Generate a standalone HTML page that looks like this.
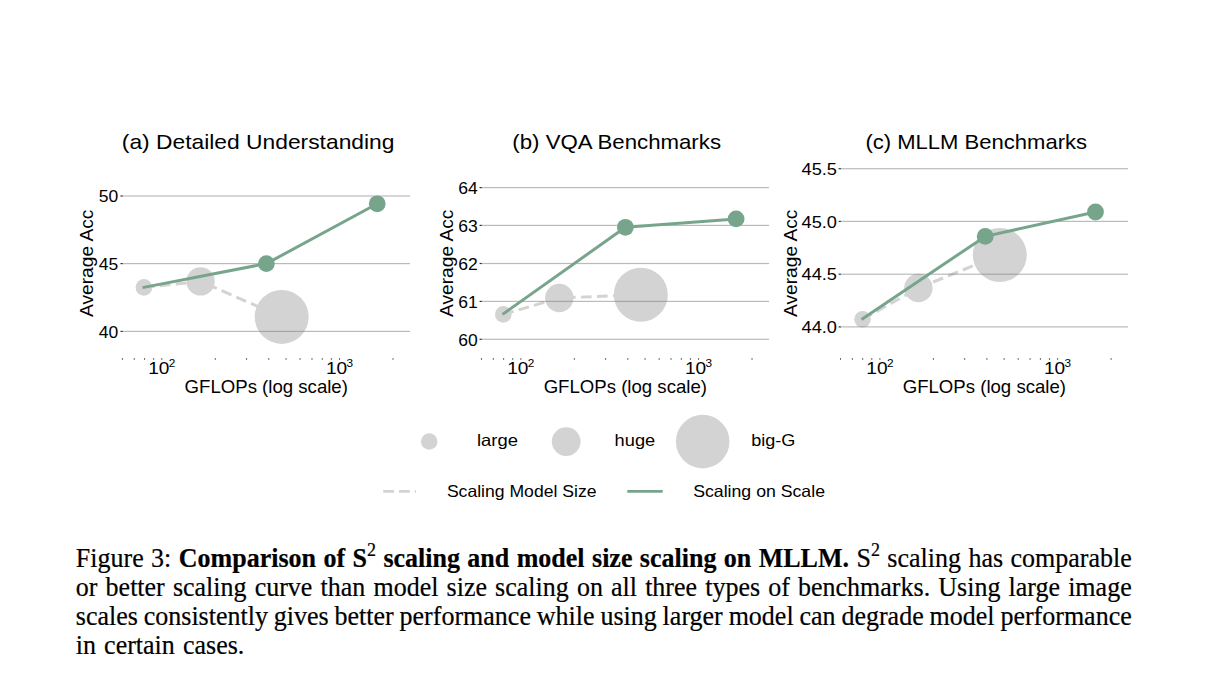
<!DOCTYPE html>
<html><head><meta charset="utf-8"><style>
html,body{margin:0;padding:0;background:#fff;}
body{width:1210px;height:686px;position:relative;overflow:hidden;}
svg{position:absolute;left:0;top:0;}
svg text{font-family:"Liberation Sans",sans-serif;fill:#000;}
.cap{position:absolute;left:75.8px;font-family:"Liberation Serif",serif;font-size:26px;line-height:29px;color:#000;white-space:nowrap;transform:scaleY(1.05);transform-origin:0 23px;-webkit-text-stroke:0.2px #000;}
.cap b{font-weight:bold;}
.cap sup{font-size:18px;font-weight:normal;vertical-align:0;position:relative;top:-10px;line-height:0;}
</style></head><body>
<svg width="1210" height="686" viewBox="0 0 1210 686">
<text x="121.8" y="149" font-size="20.8" textLength="272.7" lengthAdjust="spacingAndGlyphs">(a) Detailed Understanding</text>
<text transform="translate(92.9,263.3) rotate(-90)" text-anchor="middle" font-size="17.8" textLength="107.5" lengthAdjust="spacingAndGlyphs">Average Acc</text>
<text x="118.3" y="202.2" text-anchor="end" font-size="16.8" textLength="19.5" lengthAdjust="spacingAndGlyphs">50</text>
<rect x="120.5" y="195.4" width="2.3" height="1.2" fill="#333"/>
<text x="118.3" y="269.8" text-anchor="end" font-size="16.8" textLength="19.5" lengthAdjust="spacingAndGlyphs">45</text>
<rect x="120.5" y="263" width="2.3" height="1.2" fill="#333"/>
<text x="118.3" y="337.6" text-anchor="end" font-size="16.8" textLength="19.5" lengthAdjust="spacingAndGlyphs">40</text>
<rect x="120.5" y="330.8" width="2.3" height="1.2" fill="#333"/>
<rect x="121.88" y="358" width="1" height="1.9" fill="#666"/>
<rect x="133.77" y="358" width="1" height="1.9" fill="#666"/>
<rect x="144.08" y="358" width="1" height="1.9" fill="#666"/>
<rect x="153.17" y="358" width="1" height="1.9" fill="#666"/>
<rect x="161.3" y="358" width="1" height="1.9" fill="#666"/>
<rect x="214.79" y="358" width="1" height="1.9" fill="#666"/>
<rect x="246.08" y="358" width="1" height="1.9" fill="#666"/>
<rect x="268.29" y="358" width="1" height="1.9" fill="#666"/>
<rect x="285.51" y="358" width="1" height="1.9" fill="#666"/>
<rect x="299.58" y="358" width="1" height="1.9" fill="#666"/>
<rect x="311.47" y="358" width="1" height="1.9" fill="#666"/>
<rect x="321.78" y="358" width="1" height="1.9" fill="#666"/>
<rect x="330.87" y="358" width="1" height="1.9" fill="#666"/>
<rect x="339" y="358" width="1" height="1.9" fill="#666"/>
<rect x="392.49" y="358" width="1" height="1.9" fill="#666"/>
<text x="148.2" y="374.3" font-size="16.5" textLength="21.2" lengthAdjust="spacingAndGlyphs">10</text>
<text x="168.8" y="367.2" font-size="11.8">2</text>
<text x="325.9" y="374.3" font-size="16.5" textLength="21.2" lengthAdjust="spacingAndGlyphs">10</text>
<text x="346.5" y="367.2" font-size="11.8">3</text>
<text x="184.6" y="393" font-size="17.8" textLength="163.3" lengthAdjust="spacingAndGlyphs">GFLOPs (log scale)</text>
<polyline points="143.9,287.4 200.6,281.4 281.7,316.9" fill="none" stroke="#d3d3d3" stroke-width="3" stroke-dasharray="10.7 5.3"/>
<circle cx="143.9" cy="287.4" r="8.3" fill="#d3d3d3"/>
<circle cx="200.6" cy="281.4" r="14.2" fill="#d3d3d3"/>
<circle cx="281.7" cy="316.9" r="27" fill="#d3d3d3"/>
<rect x="122.8" y="195.4" width="287.2" height="1.2" fill="rgba(120,120,120,0.5)"/>
<rect x="122.8" y="263" width="287.2" height="1.2" fill="rgba(120,120,120,0.5)"/>
<rect x="122.8" y="330.8" width="287.2" height="1.2" fill="rgba(120,120,120,0.5)"/>
<polyline points="142.5,287.6 266.4,263.6 377.2,203.8" fill="none" stroke="#77a58c" stroke-width="3" stroke-linejoin="round"/>
<circle cx="266.4" cy="263.6" r="8.4" fill="#77a58c"/>
<circle cx="377.2" cy="203.8" r="8.4" fill="#77a58c"/>
<text x="512.3" y="149" font-size="20.8" textLength="208.7" lengthAdjust="spacingAndGlyphs">(b) VQA Benchmarks</text>
<text transform="translate(452.6,263.3) rotate(-90)" text-anchor="middle" font-size="17.8" textLength="107.5" lengthAdjust="spacingAndGlyphs">Average Acc</text>
<text x="477.7" y="193.8" text-anchor="end" font-size="16.8" textLength="19.5" lengthAdjust="spacingAndGlyphs">64</text>
<rect x="479.55" y="187" width="2.3" height="1.2" fill="#333"/>
<text x="477.7" y="231.6" text-anchor="end" font-size="16.8" textLength="19.5" lengthAdjust="spacingAndGlyphs">63</text>
<rect x="479.55" y="224.8" width="2.3" height="1.2" fill="#333"/>
<text x="477.7" y="269.7" text-anchor="end" font-size="16.8" textLength="19.5" lengthAdjust="spacingAndGlyphs">62</text>
<rect x="479.55" y="262.9" width="2.3" height="1.2" fill="#333"/>
<text x="477.7" y="307.6" text-anchor="end" font-size="16.8" textLength="19.5" lengthAdjust="spacingAndGlyphs">61</text>
<rect x="479.55" y="300.8" width="2.3" height="1.2" fill="#333"/>
<text x="477.7" y="345.5" text-anchor="end" font-size="16.8" textLength="19.5" lengthAdjust="spacingAndGlyphs">60</text>
<rect x="479.55" y="338.7" width="2.3" height="1.2" fill="#333"/>
<rect x="480.93" y="358" width="1" height="1.9" fill="#666"/>
<rect x="492.82" y="358" width="1" height="1.9" fill="#666"/>
<rect x="503.13" y="358" width="1" height="1.9" fill="#666"/>
<rect x="512.22" y="358" width="1" height="1.9" fill="#666"/>
<rect x="520.35" y="358" width="1" height="1.9" fill="#666"/>
<rect x="573.84" y="358" width="1" height="1.9" fill="#666"/>
<rect x="605.13" y="358" width="1" height="1.9" fill="#666"/>
<rect x="627.34" y="358" width="1" height="1.9" fill="#666"/>
<rect x="644.56" y="358" width="1" height="1.9" fill="#666"/>
<rect x="658.63" y="358" width="1" height="1.9" fill="#666"/>
<rect x="670.52" y="358" width="1" height="1.9" fill="#666"/>
<rect x="680.83" y="358" width="1" height="1.9" fill="#666"/>
<rect x="689.92" y="358" width="1" height="1.9" fill="#666"/>
<rect x="698.05" y="358" width="1" height="1.9" fill="#666"/>
<rect x="751.54" y="358" width="1" height="1.9" fill="#666"/>
<text x="507.25" y="374.3" font-size="16.5" textLength="21.2" lengthAdjust="spacingAndGlyphs">10</text>
<text x="527.85" y="367.2" font-size="11.8">2</text>
<text x="684.95" y="374.3" font-size="16.5" textLength="21.2" lengthAdjust="spacingAndGlyphs">10</text>
<text x="705.55" y="367.2" font-size="11.8">3</text>
<text x="543.65" y="393" font-size="17.8" textLength="163.3" lengthAdjust="spacingAndGlyphs">GFLOPs (log scale)</text>
<polyline points="503.3,314.4 559.3,298 640.8,294.7" fill="none" stroke="#d3d3d3" stroke-width="3" stroke-dasharray="10.7 5.3"/>
<circle cx="503.3" cy="314.4" r="8.3" fill="#d3d3d3"/>
<circle cx="559.3" cy="298" r="14.2" fill="#d3d3d3"/>
<circle cx="640.8" cy="294.7" r="27" fill="#d3d3d3"/>
<rect x="481.85" y="187" width="287.2" height="1.2" fill="rgba(120,120,120,0.5)"/>
<rect x="481.85" y="224.8" width="287.2" height="1.2" fill="rgba(120,120,120,0.5)"/>
<rect x="481.85" y="262.9" width="287.2" height="1.2" fill="rgba(120,120,120,0.5)"/>
<rect x="481.85" y="300.8" width="287.2" height="1.2" fill="rgba(120,120,120,0.5)"/>
<rect x="481.85" y="338.7" width="287.2" height="1.2" fill="rgba(120,120,120,0.5)"/>
<polyline points="502.5,314.4 625.4,227.3 736.1,218.9" fill="none" stroke="#77a58c" stroke-width="3" stroke-linejoin="round"/>
<circle cx="625.4" cy="227.3" r="8.4" fill="#77a58c"/>
<circle cx="736.1" cy="218.9" r="8.4" fill="#77a58c"/>
<text x="865.4" y="149" font-size="20.8" textLength="221.7" lengthAdjust="spacingAndGlyphs">(c) MLLM Benchmarks</text>
<text transform="translate(796.6,263.3) rotate(-90)" text-anchor="middle" font-size="17.8" textLength="107.5" lengthAdjust="spacingAndGlyphs">Average Acc</text>
<text x="837" y="174.9" text-anchor="end" font-size="16.8" textLength="35.5" lengthAdjust="spacingAndGlyphs">45.5</text>
<rect x="838.6" y="168.1" width="2.3" height="1.2" fill="#333"/>
<text x="837" y="227.6" text-anchor="end" font-size="16.8" textLength="35.5" lengthAdjust="spacingAndGlyphs">45.0</text>
<rect x="838.6" y="220.8" width="2.3" height="1.2" fill="#333"/>
<text x="837" y="280.4" text-anchor="end" font-size="16.8" textLength="35.5" lengthAdjust="spacingAndGlyphs">44.5</text>
<rect x="838.6" y="273.6" width="2.3" height="1.2" fill="#333"/>
<text x="837" y="333.1" text-anchor="end" font-size="16.8" textLength="35.5" lengthAdjust="spacingAndGlyphs">44.0</text>
<rect x="838.6" y="326.3" width="2.3" height="1.2" fill="#333"/>
<rect x="839.98" y="358" width="1" height="1.9" fill="#666"/>
<rect x="851.87" y="358" width="1" height="1.9" fill="#666"/>
<rect x="862.18" y="358" width="1" height="1.9" fill="#666"/>
<rect x="871.27" y="358" width="1" height="1.9" fill="#666"/>
<rect x="879.4" y="358" width="1" height="1.9" fill="#666"/>
<rect x="932.89" y="358" width="1" height="1.9" fill="#666"/>
<rect x="964.18" y="358" width="1" height="1.9" fill="#666"/>
<rect x="986.39" y="358" width="1" height="1.9" fill="#666"/>
<rect x="1003.61" y="358" width="1" height="1.9" fill="#666"/>
<rect x="1017.68" y="358" width="1" height="1.9" fill="#666"/>
<rect x="1029.57" y="358" width="1" height="1.9" fill="#666"/>
<rect x="1039.88" y="358" width="1" height="1.9" fill="#666"/>
<rect x="1048.97" y="358" width="1" height="1.9" fill="#666"/>
<rect x="1057.1" y="358" width="1" height="1.9" fill="#666"/>
<rect x="1110.59" y="358" width="1" height="1.9" fill="#666"/>
<text x="866.3" y="374.3" font-size="16.5" textLength="21.2" lengthAdjust="spacingAndGlyphs">10</text>
<text x="886.9" y="367.2" font-size="11.8">2</text>
<text x="1044" y="374.3" font-size="16.5" textLength="21.2" lengthAdjust="spacingAndGlyphs">10</text>
<text x="1064.6" y="367.2" font-size="11.8">3</text>
<text x="902.7" y="393" font-size="17.8" textLength="163.3" lengthAdjust="spacingAndGlyphs">GFLOPs (log scale)</text>
<polyline points="862.5,319.3 918.4,288 999.8,255" fill="none" stroke="#d3d3d3" stroke-width="3" stroke-dasharray="10.7 5.3"/>
<circle cx="862.5" cy="319.3" r="8.3" fill="#d3d3d3"/>
<circle cx="918.4" cy="288" r="14.2" fill="#d3d3d3"/>
<circle cx="999.8" cy="255" r="27" fill="#d3d3d3"/>
<rect x="840.9" y="168.1" width="287.2" height="1.2" fill="rgba(120,120,120,0.5)"/>
<rect x="840.9" y="220.8" width="287.2" height="1.2" fill="rgba(120,120,120,0.5)"/>
<rect x="840.9" y="273.6" width="287.2" height="1.2" fill="rgba(120,120,120,0.5)"/>
<rect x="840.9" y="326.3" width="287.2" height="1.2" fill="rgba(120,120,120,0.5)"/>
<polyline points="861.5,319.6 985.2,236.4 1095.5,212" fill="none" stroke="#77a58c" stroke-width="3" stroke-linejoin="round"/>
<circle cx="985.2" cy="236.4" r="8.4" fill="#77a58c"/>
<circle cx="1095.5" cy="212" r="8.4" fill="#77a58c"/>
<circle cx="429.2" cy="441.5" r="8.3" fill="#d3d3d3"/>
<circle cx="566.2" cy="441.6" r="14.4" fill="#d3d3d3"/>
<circle cx="702.7" cy="441.6" r="26.8" fill="#d3d3d3"/>
<text x="477" y="446.1" font-size="16.5" textLength="41" lengthAdjust="spacingAndGlyphs">large</text>
<text x="614.6" y="446.1" font-size="16.5" textLength="40.6" lengthAdjust="spacingAndGlyphs">huge</text>
<text x="751.2" y="446.1" font-size="16.5" textLength="44.2" lengthAdjust="spacingAndGlyphs">big-G</text>
<line x1="383.2" y1="491.3" x2="416" y2="491.3" stroke="#d3d3d3" stroke-width="2.8" stroke-dasharray="10.8 5"/>
<line x1="627.3" y1="491.4" x2="662.7" y2="491.4" stroke="#77a58c" stroke-width="2.9"/>
<text x="446.9" y="497" font-size="16.5" textLength="149.6" lengthAdjust="spacingAndGlyphs">Scaling Model Size</text>
<text x="693.2" y="497" font-size="16.5" textLength="131.8" lengthAdjust="spacingAndGlyphs">Scaling on Scale</text>
</svg>
<div class="cap" id="l1" style="top:544px;word-spacing:0.923px">Figure 3: <b>Comparison of S<sup>2</sup> scaling and model size scaling on MLLM.</b> S<sup>2</sup> scaling has comparable</div>
<div class="cap" id="l2" style="top:573px;word-spacing:1.63px">or better scaling curve than model size scaling on all three types of benchmarks. Using large image</div>
<div class="cap" id="l3" style="top:602px;word-spacing:-0.643px">scales consistently gives better performance while using larger model can degrade model performance</div>
<div class="cap" id="l4" style="top:631px;word-spacing:1.6px">in certain cases.</div>
</body></html>
